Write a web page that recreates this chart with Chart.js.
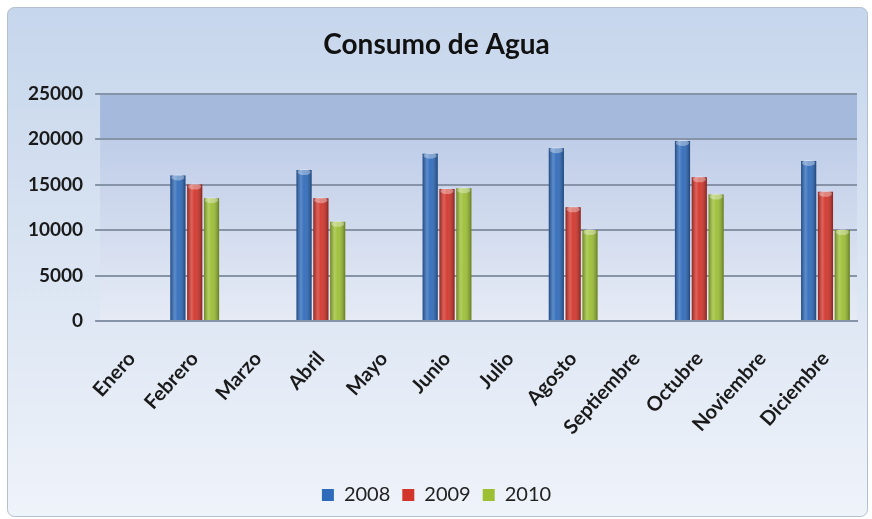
<!DOCTYPE html>
<html>
<head>
<meta charset="utf-8">
<title>Consumo de Agua</title>
<script src="https://cdn.jsdelivr.net/npm/chart.js@4"></script>
<style>
  html, body { margin: 0; padding: 0; background: #fff; }
  canvas { display: block; }
</style>
</head>
<body>
<canvas id="myChart" width="872" height="519"></canvas>
<script>
var meses = ['Enero', 'Febrero', 'Marzo', 'Abril', 'Mayo', 'Junio', 'Julio',
  'Agosto', 'Septiembre', 'Octubre', 'Noviembre', 'Diciembre'];
var anios = ['2008', '2009', '2010'];
var consumo2008 = [null, 16000, null, 16600, null, 18400, null, 19000, null, 19800, null, 17600];
var consumo2009 = [null, 15000, null, 13500, null, 14500, null, 12500, null, 15800, null, 14200];
var consumo2010 = [null, 13500, null, 10900, null, 14600, null, 10000, null, 13900, null, 10000];
var colores = ['#2f6bbb', '#d2352b', '#9cbf34'];

var FONT = 'Lato, "Open Sans", sans-serif';

// panel behind the whole chart + shaded plot area
var fondo = {
  id: 'fondo',
  beforeDraw: function (chart) {
    var c = chart.ctx;
    var w = chart.width, h = chart.height;
    c.save();
    c.fillStyle = '#ffffff';
    c.fillRect(0, 0, w, h);

    var g = c.createLinearGradient(0, 7, 0, h - 3);
    g.addColorStop(0, '#c6d6ec');
    g.addColorStop(0.5, '#dae4f2');
    g.addColorStop(1, '#eff3fa');
    c.beginPath();
    c.roundRect(7.5, 7.5, w - 12, h - 10, 7);
    c.fillStyle = g;
    c.fill();
    c.lineWidth = 1;
    c.strokeStyle = '#b4bfcd';
    c.stroke();

    var a = chart.chartArea;
    var yBanda = chart.scales.y.getPixelForValue(20000);
    c.fillStyle = '#a5b9dd';
    c.fillRect(a.left, a.top, a.right - a.left, yBanda - a.top);
    var g2 = c.createLinearGradient(0, yBanda, 0, a.bottom);
    g2.addColorStop(0, '#bfcde8');
    g2.addColorStop(1, '#e6ebf5');
    c.fillStyle = g2;
    c.fillRect(a.left, yBanda, a.right - a.left, a.bottom - yBanda);
    c.restore();
  }
};

// cylinder-like shading on each bar
var brillo = {
  id: 'brillo',
  afterDatasetsDraw: function (chart) {
    var c = chart.ctx;
    c.save();
    chart.data.datasets.forEach(function (ds, i) {
      chart.getDatasetMeta(i).data.forEach(function (bar) {
        var p = bar.getProps(['x', 'y', 'base', 'width']);
        if (!isFinite(p.y) || p.base - p.y < 1) return;
        var l = p.x - p.width / 2;
        var g = c.createLinearGradient(l, 0, l + p.width, 0);
        g.addColorStop(0, 'rgba(0,0,0,0.30)');
        g.addColorStop(0.3, 'rgba(255,255,255,0.22)');
        g.addColorStop(0.5, 'rgba(255,255,255,0.05)');
        g.addColorStop(1, 'rgba(0,0,0,0.35)');
        c.fillStyle = g;
        c.fillRect(l, p.y, p.width, p.base - p.y);
        c.beginPath();
        c.ellipse(p.x, p.y + 2, p.width / 2 - 1, 3, 0, 0, Math.PI * 2);
        c.fillStyle = 'rgba(255,255,255,0.35)';
        c.fill();
      });
    });
    c.restore();
  }
};

var ctx = document.getElementById('myChart').getContext('2d');
var chart = new Chart(ctx, {
  type: 'bar',
  data: {
    labels: meses,
    datasets: [
      { label: anios[0], data: consumo2008, backgroundColor: colores[0] },
      { label: anios[1], data: consumo2009, backgroundColor: colores[1] },
      { label: anios[2], data: consumo2010, backgroundColor: colores[2] }
    ]
  },
  plugins: [fondo, brillo],
  options: {
    responsive: false,
    animation: false,
    categoryPercentage: 0.8,
    barPercentage: 0.9,
    layout: { padding: { top: 12, left: 16, right: 15, bottom: 4 } },
    plugins: {
      title: {
        display: true,
        text: 'Consumo de Agua',
        color: '#111',
        font: { family: FONT, size: 28, weight: 'bold' },
        padding: { top: 16, bottom: 32 }
      },
      legend: {
        position: 'bottom',
        labels: {
          color: '#222',
          boxWidth: 12,
          boxHeight: 12,
          padding: 12,
          font: { family: FONT, size: 20 }
        }
      },
      tooltip: { enabled: false }
    },
    scales: {
      x: {
        grid: { display: false },
        border: { display: true, color: '#8794a8', width: 2 },
        ticks: {
          color: '#1a1a1a',
          font: { family: FONT, size: 20, weight: 'bold' },
          minRotation: 48,
          maxRotation: 48,
          padding: 18
        },
        afterFit: function (scale) { scale.height = 152; }
      },
      y: {
        min: 0,
        max: 25000,
        border: { display: false },
        grid: { color: '#8794a8', lineWidth: 2, tickLength: 5 },
        ticks: {
          stepSize: 5000,
          color: '#1a1a1a',
          padding: 12,
          font: { family: FONT, size: 19, weight: 'bold' },
          callback: function (v) { return String(v); }
        }
      }
    }
  }
});
</script>
</body>
</html>
